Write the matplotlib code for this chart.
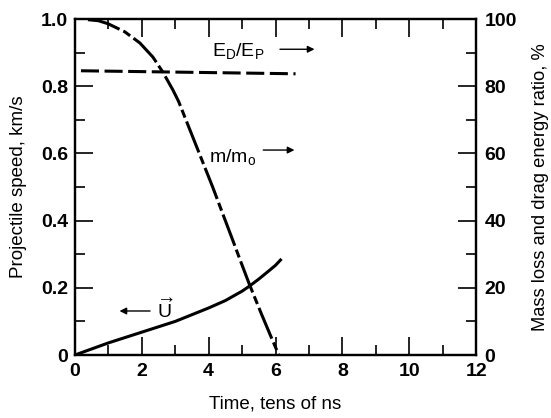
import matplotlib
matplotlib.use("Agg")
import matplotlib.pyplot as plt
import numpy as np

plt.rcParams['font.family'] = ['Liberation Sans', 'DejaVu Sans']
plt.rcParams['mathtext.fontset'] = 'custom'
plt.rcParams['mathtext.rm'] = 'Liberation Sans'
plt.rcParams['mathtext.it'] = 'Liberation Sans'
plt.rcParams['mathtext.bf'] = 'Liberation Sans:bold'
plt.rcParams['lines.scale_dashes'] = False

# Data (time in tens of ns)
u_t = [0.0, 1.0, 2.0, 3.0, 4.0, 4.5, 5.0, 5.22, 5.5, 5.82, 6.0, 6.18]
u_speed = [0.0, 0.036, 0.068, 0.1, 0.14, 0.162, 0.19, 0.205, 0.226, 0.252, 0.267, 0.286]

m_t = [0.39, 0.7, 0.99, 1.49, 1.94, 2.33, 2.63, 2.93, 3.1, 3.52, 3.88, 4.12, 4.48, 4.72, 4.93, 5.22, 5.58, 5.85, 6.1]
m_ratio = [99.8, 99.5, 98.6, 96.2, 92.9, 88.7, 84.2, 78.9, 75.5, 65.0, 56.0, 50.0, 40.5, 34.2, 28.6, 21.0, 12.2, 5.8, 0.0]

e_t = [0.18, 6.6]
e_ratio = [84.6, 83.7]

xticks = [0, 2, 4, 6, 8, 10, 12]
yticks_left = [0, 0.2, 0.4, 0.6, 0.8, 1.0]
yticklabels_left = ['0', '0.2', '0.4', '0.6', '0.8', '1.0']
yticks_right = [0, 20, 40, 60, 80, 100]

fig = plt.figure(figsize=(5.51, 4.18), dpi=100)
ax = fig.add_axes([0.136, 0.1507, 0.728, 0.8038])
ax2 = ax.twinx()

ax.set_xlim(0, 12)
ax.set_ylim(0, 1.0)
ax2.set_ylim(0, 100)

lw = 2.2
ax.plot(u_t, u_speed, color='black', lw=lw, solid_capstyle='butt')
l1, = ax2.plot(m_t, m_ratio, color='black', lw=lw)
l1.set_dashes([24, 3, 6, 3])
l2, = ax2.plot(e_t, e_ratio, color='black', lw=lw)
l2.set_dashes([13, 4])

tick_fs = 14
ax.set_xticks(xticks)
ax.set_xticklabels([str(v) for v in xticks], fontsize=tick_fs, fontweight='bold')
ax.set_xticks(np.arange(1, 12, 2), minor=True)
ax.set_yticks(yticks_left)
ax.set_yticklabels(yticklabels_left, fontsize=tick_fs, fontweight='bold')
ax.set_yticks(np.arange(0.1, 1.0, 0.2), minor=True)
ax2.set_yticks(yticks_right)
ax2.set_yticklabels([str(v) for v in yticks_right], fontsize=tick_fs, fontweight='bold')
ax2.set_yticks(np.arange(10, 100, 20), minor=True)

ax.tick_params(axis='both', which='major', direction='in', length=13, width=1.2, top=True)
ax.tick_params(axis='x', which='major', pad=6)
ax.tick_params(axis='y', which='major', pad=5)
ax.tick_params(axis='both', which='minor', direction='in', length=7, width=1.2, top=True)
ax.tick_params(axis='y', which='both', right=False)
ax2.tick_params(axis='y', which='major', direction='in', length=13, width=1.2, pad=6)
ax2.tick_params(axis='y', which='minor', direction='in', length=7, width=1.2)

for a in (ax, ax2):
    for s in a.spines.values():
        s.set_linewidth(1.6)

ax.set_xlabel('Time, tens of ns', fontsize=13.5, labelpad=11)
ax.set_ylabel('Projectile speed, km/s', fontsize=13.5, labelpad=10)
ax2.set_ylabel('Mass loss and drag energy ratio, %', fontsize=13.2, labelpad=11)

# Annotations
ax.text(4.1, 0.905, r'$\mathregular{E_D/E_P}$', fontsize=14, va='center', ha='left')
ax.annotate('', xy=(7.25, 0.91), xytext=(6.05, 0.91),
            arrowprops=dict(arrowstyle='-|>', color='black', lw=1.0, mutation_scale=10))
ax.text(4.0, 0.59, r'$\mathregular{m/m_o}$', fontsize=14, va='center', ha='left')
ax.annotate('', xy=(6.65, 0.61), xytext=(5.55, 0.61),
            arrowprops=dict(arrowstyle='-|>', color='black', lw=1.0, mutation_scale=10))
ax.text(2.45, 0.135, r'$\mathregular{\overrightarrow{U}}$', fontsize=14, va='center', ha='left')
ax.annotate('', xy=(1.25, 0.131), xytext=(2.33, 0.131),
            arrowprops=dict(arrowstyle='-|>', color='black', lw=1.0, mutation_scale=10))

fig.savefig('out.png', dpi=100)
